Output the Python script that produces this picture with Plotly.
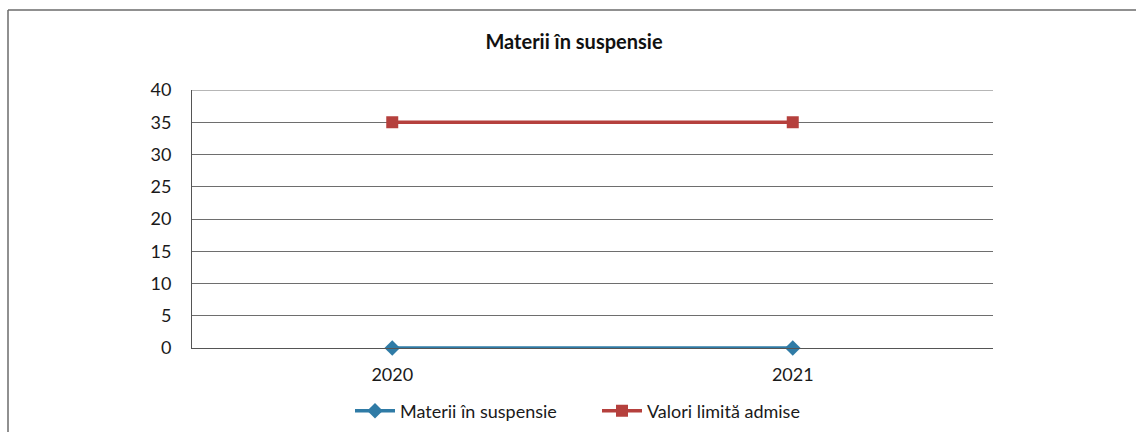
import plotly.graph_objects as go

# Data
years = ["2020", "2021"]
materii_suspensie = [0, 0]
valori_limita = [35, 35]
y_ticks = [0, 5, 10, 15, 20, 25, 30, 35, 40]

W, H = 1136, 432
L, R, T, B = 192, 143, 90, 84
plot_w = W - L - R
plot_h = H - T - B

font_family = "Lato, 'Open Sans', sans-serif"
tick_size = 18

fig = go.Figure()
fig.add_trace(go.Scatter(
    x=years, y=materii_suspensie, name="Materii în suspensie",
    mode="lines+markers", cliponaxis=False,
    line=dict(color="#2F7BA6", width=3.5),
    marker=dict(symbol="diamond", size=12, color="#2F7BA6"),
))
fig.add_trace(go.Scatter(
    x=years, y=valori_limita, name="Valori limită admise",
    mode="lines+markers", cliponaxis=False,
    line=dict(color="#B5403D", width=3.5),
    marker=dict(symbol="square", size=12, color="#B5403D"),
))


def px_x(px):
    return (px - L) / plot_w


def px_y(py):
    return (H - B - py) / plot_h


# Outer chart frame (left and top edges)
frame = dict(color="#6b6b6b", width=1.5)
fig.add_shape(type="line", xref="paper", yref="paper",
              x0=px_x(8), x1=px_x(1140), y0=px_y(10), y1=px_y(10), line=frame)
fig.add_shape(type="line", xref="paper", yref="paper",
              x0=px_x(8), x1=px_x(8), y0=px_y(10), y1=px_y(436), line=frame)

# Top gridline at the maximum of the value axis
fig.add_shape(type="line", xref="paper", yref="y", layer="below",
              x0=0, x1=1, y0=y_ticks[-1], y1=y_ticks[-1],
              line=dict(color="#6e6e6e", width=1))

fig.update_layout(
    width=W, height=H,
    margin=dict(l=L, r=R, t=T, b=B, autoexpand=False),
    paper_bgcolor="white", plot_bgcolor="white",
    font=dict(family=font_family, size=tick_size, color="#1a1a1a"),
    title=dict(text="<b>Materii în suspensie</b>", x=574 / W, xanchor="center",
               y=1 - 42 / H, yanchor="middle",
               font=dict(size=20, family=font_family, color="#111")),
    showlegend=True,
    legend=dict(orientation="h", x=px_x(597), xanchor="center",
                y=px_y(411), yanchor="middle",
                font=dict(size=tick_size), itemwidth=40, tracegroupgap=0,
                entrywidth=192, entrywidthmode="pixels",
                bgcolor="rgba(0,0,0,0)"),
    xaxis=dict(type="category", range=[-0.5, 1.5], showgrid=False,
               showline=True, linecolor="#555", linewidth=1, automargin=False,
               ticks="", ticklabelstandoff=10, tickfont=dict(size=tick_size),
               zeroline=False),
    yaxis=dict(range=[0, 40], tickvals=y_ticks, showgrid=True,
               gridcolor="#6e6e6e", gridwidth=1, automargin=False,
               showline=True, linecolor="#555", linewidth=1,
               ticks="", ticklabelstandoff=16, tickfont=dict(size=tick_size),
               zeroline=False),
)

fig.write_html("out.html")
